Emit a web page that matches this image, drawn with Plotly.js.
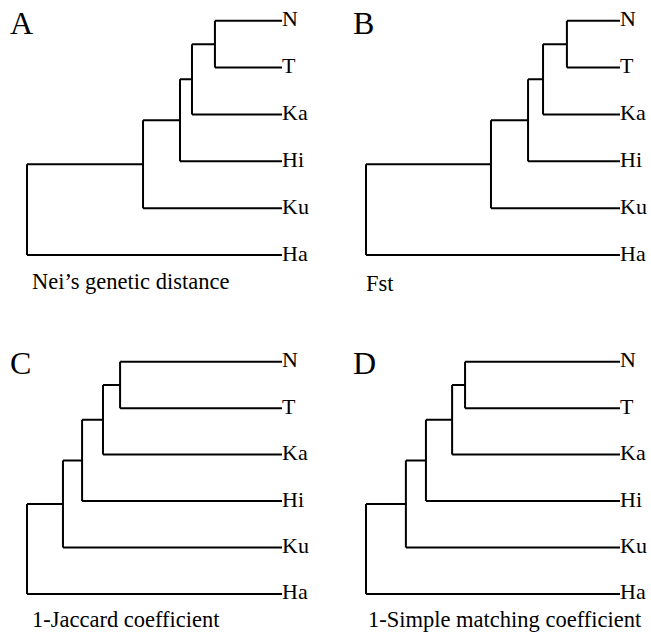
<!DOCTYPE html>
<html>
<head>
<meta charset="utf-8">
<script src="https://cdn.plot.ly/plotly-3.0.1.min.js"></script>
<style>html,body{margin:0;padding:0;background:#fff;}#chart{width:651px;height:633px;}</style>
</head>
<body>
<div id="chart"></div>
<script>
// Leaves, top to bottom; topology ((((N,T),Ka),Hi),Ku),Ha
const leaves = ["N", "T", "Ka", "Hi", "Ku", "Ha"];
// Merge heights (relative to root = 1) for nodes: (N,T), +Ka, +Hi, +Ku, root(+Ha)
const heightsA = [0.263, 0.353, 0.400, 0.545, 1.0];
const heightsB = [0.209, 0.303, 0.362, 0.508, 1.0];
const heightsC = [0.635, 0.702, 0.784, 0.859, 1.0];
const heightsD = [0.610, 0.661, 0.764, 0.843, 1.0];
const panelLetters = ["A", "B", "C", "D"];
const captions = ["Nei\u2019s genetic distance", "Fst", "1-Jaccard coefficient", "1-Simple matching coefficient"];

const FONT = "'Liberation Serif', 'Times New Roman', Times, serif";

function dendroSegments(h) {
  const xs = [], ys = [];
  const seg = (x0, y0, x1, y1) => { xs.push(x0, x1, null); ys.push(y0, y1, null); };
  let prevY = (0 + 1) / 2;
  seg(0, 0, h[0], 0);
  seg(0, 1, h[0], 1);
  seg(h[0], 0, h[0], 1);
  for (let k = 1; k < h.length; k++) {
    const leafIdx = k + 1;
    seg(h[k - 1], prevY, h[k], prevY);      // stem of previous node
    seg(0, leafIdx, h[k], leafIdx);          // leaf branch
    seg(h[k], prevY, h[k], leafIdx);         // vertical connector
    prevY = (prevY + leafIdx) / 2;
  }
  return {x: xs, y: ys};
}

const allHeights = [heightsA, heightsB, heightsC, heightsD];
const traces = [];
allHeights.forEach((h, i) => {
  const s = dendroSegments(h);
  const ax = i === 0 ? "" : String(i + 1);
  traces.push({
    type: "scatter", mode: "lines", x: s.x, y: s.y,
    xaxis: "x" + ax, yaxis: "y" + ax,
    line: {color: "#000", width: 2}, hoverinfo: "skip", showlegend: false
  });
  traces.push({
    type: "scatter", mode: "text",
    x: leaves.map(() => 0), y: leaves.map((_, j) => j),
    text: leaves, textposition: "middle right",
    textfont: {family: FONT, size: 22, color: "#000"},
    xaxis: "x" + ax, yaxis: "y" + ax, cliponaxis: false,
    hoverinfo: "skip", showlegend: false
  });
});

const W = 651, H = 633;
function xdom(rootPx, leafPx) {
  const u = leafPx - rootPx;
  return [(rootPx - 0.05 * u) / W, (leafPx + 0.05 * u) / W];
}
function ydom(topPx, botPx) {
  const u = (botPx - topPx) / 5;
  return [1 - (botPx + 0.3 * u) / H, 1 - (topPx - 0.3 * u) / H];
}
const xd = [xdom(27, 282), xdom(366, 620), xdom(27, 282), xdom(366, 620)];
const yd = [ydom(20.7, 255), ydom(20.7, 255), ydom(361.7, 594), ydom(361.7, 594)];

const layout = {
  width: W, height: H,
  margin: {l: 0, r: 0, t: 0, b: 0},
  paper_bgcolor: "#fff", plot_bgcolor: "rgba(0,0,0,0)",
  font: {family: FONT, color: "#000"},
  showlegend: false,
  annotations: []
};
for (let i = 0; i < 4; i++) {
  const ax = i === 0 ? "" : String(i + 1);
  layout["xaxis" + ax] = {domain: xd[i], range: [1.05, -0.05], visible: false, fixedrange: true, anchor: "y" + ax};
  layout["yaxis" + ax] = {domain: yd[i], range: [5.3, -0.3], visible: false, fixedrange: true, anchor: "x" + ax};
}
const letterPos = [[8, 23], [351, 23], [8, 363], [351, 363]];
const captionPos = [[30, 282], [364, 283], [30, 619], [366, 619]];
for (let i = 0; i < 4; i++) {
  layout.annotations.push({
    xref: "paper", yref: "paper", x: letterPos[i][0] / W, y: 1 - letterPos[i][1] / H,
    xanchor: "left", yanchor: "middle", showarrow: false, text: panelLetters[i],
    font: {family: FONT, size: 32, color: "#000"}
  });
  layout.annotations.push({
    xref: "paper", yref: "paper", x: captionPos[i][0] / W, y: 1 - captionPos[i][1] / H,
    xanchor: "left", yanchor: "middle", showarrow: false, text: captions[i],
    font: {family: FONT, size: 22.5, color: "#000"}
  });
}
Plotly.newPlot("chart", traces, layout, {displayModeBar: false, staticPlot: true});
</script>
</body>
</html>
